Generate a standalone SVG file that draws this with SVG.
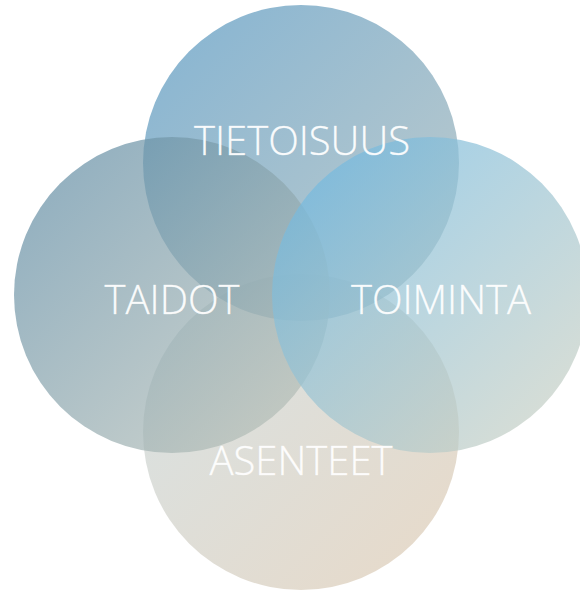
<svg xmlns="http://www.w3.org/2000/svg" width="580" height="592" viewBox="0 0 580 592">
<style>
.c{opacity:0.7}
.t{font-family:"Open Sans","Noto Sans",sans-serif;font-weight:300;font-size:40px;fill:#ffffff;fill-opacity:0.95;stroke:#ffffff;stroke-opacity:0.6;stroke-width:0.5;text-anchor:middle}
</style>
<defs>
<linearGradient id="gTop" x1="0" y1="0" x2="1" y2="1"><stop offset="0" stop-color="#4f93bf"/><stop offset="1" stop-color="#a6b6b6"/></linearGradient>
<linearGradient id="gLeft" x1="0" y1="0" x2="1" y2="1"><stop offset="0" stop-color="#5887a2"/><stop offset="1" stop-color="#c2c6ba"/></linearGradient>
<linearGradient id="gRight" x1="0" y1="0" x2="1" y2="1"><stop offset="0" stop-color="#66b6e4"/><stop offset="1" stop-color="#d2d2c0"/></linearGradient>
<linearGradient id="gBottom" x1="0" y1="0" x2="1" y2="1"><stop offset="0" stop-color="#c5d6db"/><stop offset="1" stop-color="#dec9b0"/></linearGradient>
</defs>
<rect width="580" height="592" fill="#ffffff"/>
<g id="asenteet"><circle class="c" cx="301" cy="432" r="158" fill="url(#gBottom)"/></g>
<g id="tietoisuus"><circle class="c" cx="301" cy="163" r="158" fill="url(#gTop)"/></g>
<g id="taidot"><circle class="c" cx="172" cy="295" r="158" fill="url(#gLeft)"/></g>
<g id="toiminta"><circle class="c" cx="430" cy="295" r="158" fill="url(#gRight)"/></g>
<g id="connectors"></g>
<g id="labels">
<text class="t" x="302" y="155">TIETOISUUS</text>
<text class="t" x="172" y="314">TAIDOT</text>
<text class="t" x="441" y="314">TOIMINTA</text>
<text class="t" x="301" y="475">ASENTEET</text>
</g>
</svg>
